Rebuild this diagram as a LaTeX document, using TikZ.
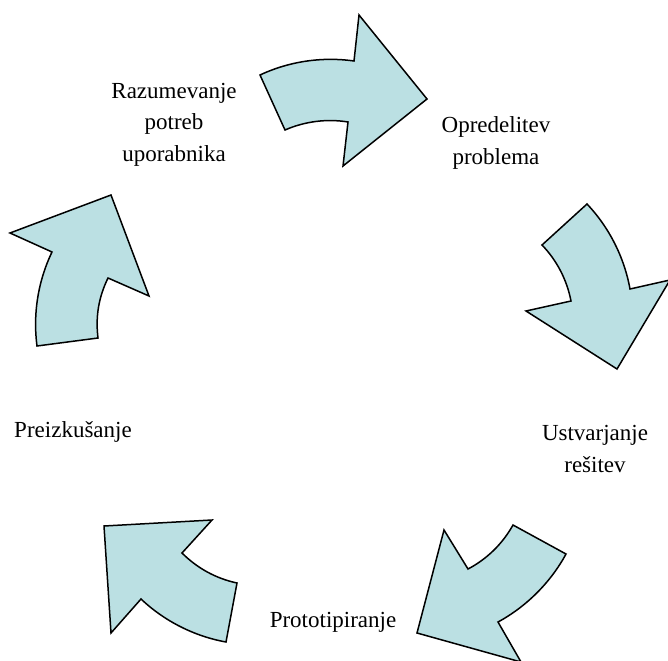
\documentclass[tikz,border=0pt]{standalone}
\usepackage{fontspec}
\setmainfont{Liberation Serif}
\definecolor{arrowfill}{RGB}{187,224,227}
\tikzset{
  cyclearrow/.style={draw=black, line width=1.5pt, fill=arrowfill, line join=miter},
  label/.style={font=\fontsize{23}{31.5}\selectfont, align=center, anchor=base, inner sep=0pt}
}
\begin{document}
\begin{tikzpicture}[x=1pt,y=-1pt]
\useasboundingbox (0,0) rectangle (668,660);
\clip (0,0) rectangle (668,660);
% arrow 1 (top)
\draw[cyclearrow] (260,75) .. controls (289.3,61.3) and (322,56.5) .. (354,61) -- (359,15) -- (427,99) -- (343,166) -- (348,122)
  .. controls (326.8,118.5) and (304.7,121.4) .. (285,130) -- cycle;
% arrow 2 (right)
\draw[cyclearrow] (587,204) .. controls (609.2,227.5) and (624.2,257.2) .. (630,289) -- (670,280) -- (617,369) -- (526,311) -- (571,301)
  .. controls (566.9,279.9) and (556.9,260.5) .. (542,245) -- cycle;
% arrow 3 (bottom right)
\draw[cyclearrow] (513,525) -- (566,554) .. controls (550.6,582.4) and (526.4,606.6) .. (498,622) -- (521,662) -- (417,633) -- (444,530) -- (468,569)
  .. controls (487,559) and (502.5,543.8) .. (513,525) -- cycle;
% arrow 4 (bottom left)
\draw[cyclearrow] (104,526) -- (212,520) -- (182,553) .. controls (197.2,568.2) and (216,578.5) .. (237,583) -- (226,642)
  .. controls (194.2,636.2) and (164.5,621.2) .. (141,599) -- (111,633) -- cycle;
% arrow 5 (left)
\draw[cyclearrow] (10,233) -- (111,195) -- (149,296) -- (108,278) .. controls (98.6,297.3) and (95.4,316.7) .. (98,338) -- (37,346)
  .. controls (32.8,313.9) and (38,281.2) .. (52,252) -- cycle;
% labels (anchor base = baseline of the last line)
\node[label] (razumevanje) at (174,161.5) {Razumevanje\\potreb\\uporabnika};
\node[label] (opredelitev) at (496,164.5) {Opredelitev\\problema};
\node[label] (ustvarjanje) at (595,472) {Ustvarjanje\\rešitev};
\node[label] (prototipiranje) at (333,627) {Prototipiranje};
\node[label] (preizkusanje) at (73,437) {Preizkušanje};
\end{tikzpicture}
\end{document}
